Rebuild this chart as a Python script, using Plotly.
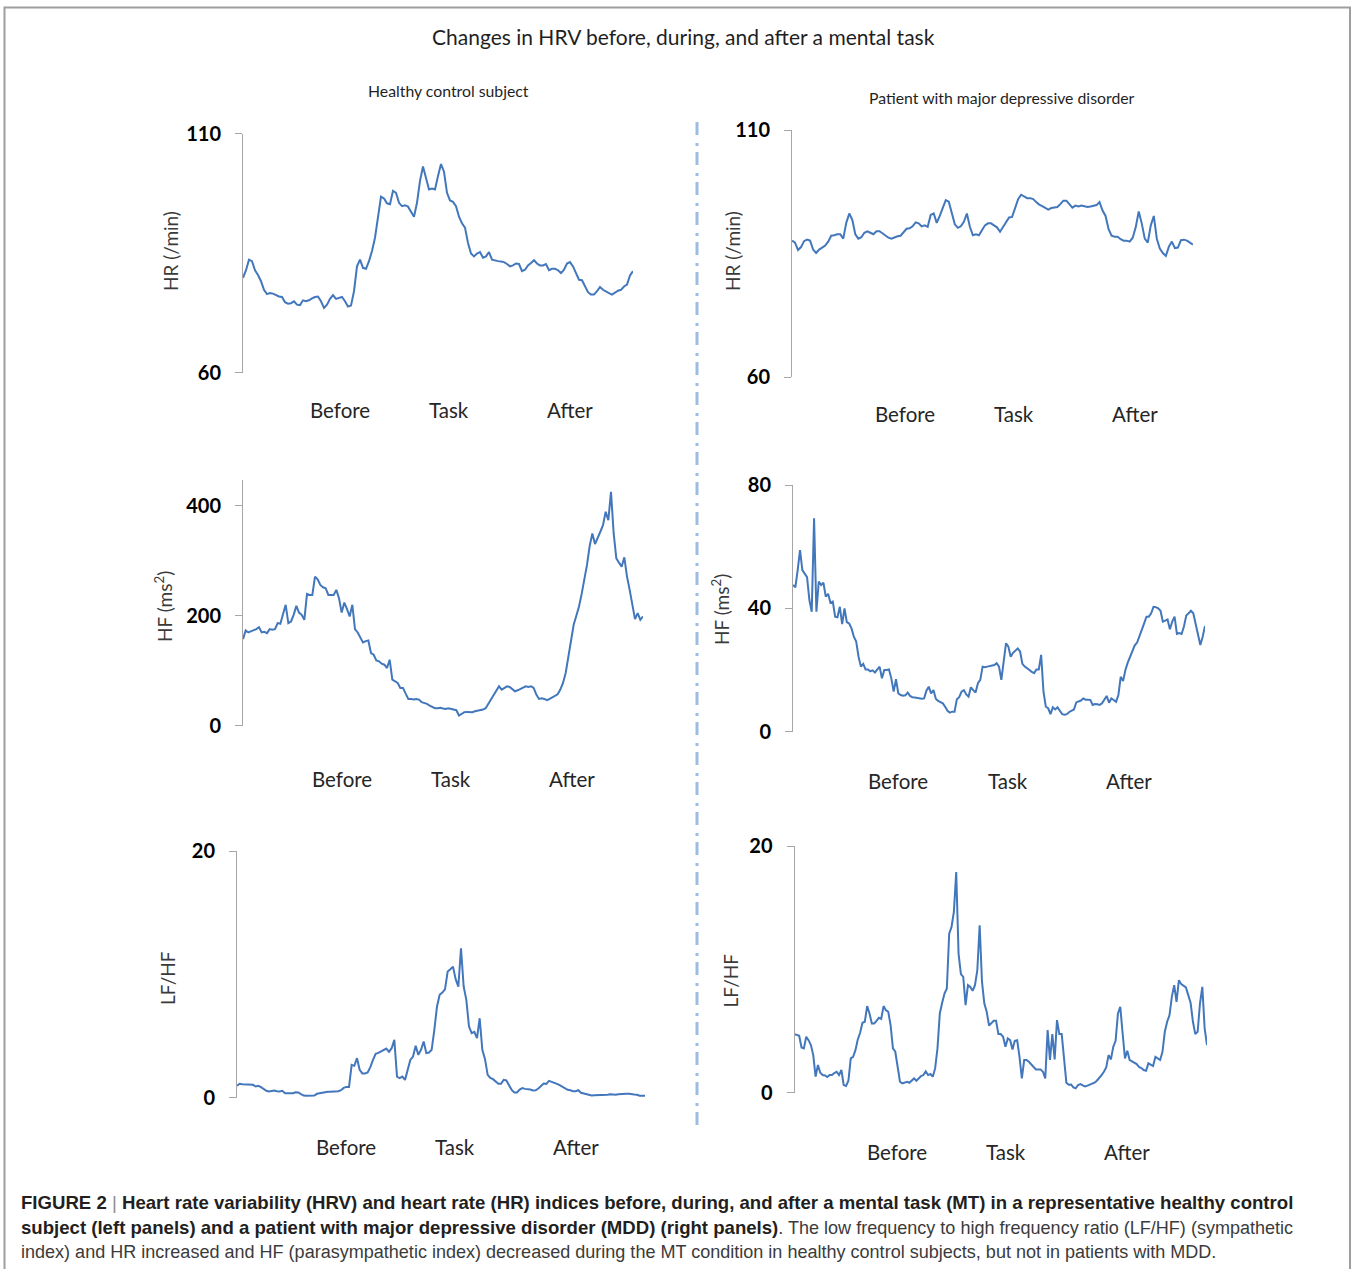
import plotly.graph_objects as go

W, H = 1352, 1269

# ---------------- data ----------------
# Heart rate (beats/min), healthy control subject
hr_control = [79.8, 81.4, 83.6, 83.3, 81.4, 80.4, 79.1, 77.3, 76.4, 76.6, 76.5, 76.2, 75.9, 75.8,
              74.7, 74.4, 74.5, 74.9, 74.2, 74.1, 75.1, 74.9, 75.1, 75.5, 75.8, 75.9, 74.9, 73.5,
              74.2, 75.4, 76.2, 75.4, 75.6, 75.8, 74.9, 73.8, 74.0, 77.0, 82.2, 83.6, 81.9, 81.7,
              83.3, 85.4, 88.2, 92.7, 96.8, 96.4, 95.4, 95.2, 98.0, 97.6, 95.5, 94.8, 95.0, 94.7,
              93.6, 92.6, 95.5, 100.1, 103.1, 100.4, 98.3, 98.5, 98.3, 101.1, 103.6, 102.0, 97.6,
              96.0, 95.7, 94.8, 92.6, 91.2, 90.3, 87.1, 84.9, 84.3, 84.9, 85.2, 84.0, 84.3, 85.2,
              83.6, 83.4, 83.3, 83.2, 83.1, 82.7, 82.2, 82.4, 82.8, 82.7, 81.2, 81.5, 82.4, 82.9,
              83.5, 82.8, 82.4, 82.4, 82.7, 81.4, 81.7, 81.7, 81.4, 80.8, 81.5, 82.8, 83.1, 82.2,
              80.7, 79.4, 79.3, 78.0, 76.8, 76.3, 76.3, 77.0, 77.9, 77.3, 76.9, 76.6, 76.3, 76.8,
              77.1, 77.3, 78.0, 78.4, 80.3, 81.2]

# HF power (ms^2), healthy control subject
hf_control = [157.3, 173.1, 169.4, 171.2, 172.5, 175.5, 179.1, 169.4, 170.6, 168.2, 175.5, 174.3,
              175.5, 186.4, 185.2, 201.5, 219.7, 186.4, 189.4, 201.5, 217.8, 205.7, 201.5, 192.4,
              239.6, 237.8, 237.8, 271.1, 266.2, 256.0, 251.7, 249.9, 237.8, 237.8, 237.8, 246.9,
              231.8, 205.7, 223.9, 211.8, 198.5, 219.7, 175.5, 169.4, 159.1, 151.3, 153.7, 154.9,
              131.9, 128.9, 118.6, 116.8, 112.5, 110.7, 104.7, 119.8, 83.5, 80.5, 77.5, 68.4, 68.4,
              58.1, 48.4, 48.4, 47.2, 48.4, 47.2, 42.4, 41.1, 39.3, 36.3, 33.9, 31.5, 31.5, 32.1,
              30.9, 30.3, 31.5, 30.3, 30.3, 27.8, 18.2, 21.2, 24.2, 24.8, 24.2, 24.2, 26.0, 26.6,
              27.8, 29.0, 31.5, 39.9, 46.0, 54.5, 64.1, 71.4, 65.4, 69.0, 71.4, 70.2, 66.6, 62.3,
              64.1, 66.6, 69.6, 71.4, 70.2, 71.4, 68.4, 56.3, 48.4, 49.6, 48.4, 46.0, 48.4, 51.4,
              54.5, 56.9, 65.4, 77.5, 95.6, 122.8, 153.1, 183.3, 199.7, 216.6, 239.6, 265.0, 292.3,
              326.8, 349.7, 330.4, 340.7, 352.8, 364.9, 389.1, 374.0, 425.4, 349.7, 304.4, 296.5,
              289.2, 306.2, 271.1, 246.9, 222.7, 193.6, 204.5, 192.4, 198.5]

# LF/HF ratio, healthy control subject
lfhf_control = [0.95, 1.11, 1.08, 1.08, 1.05, 1.03, 1.03, 0.89, 0.95, 0.84, 0.65, 0.54, 0.49, 0.51,
                0.57, 0.51, 0.49, 0.54, 0.35, 0.35, 0.35, 0.35, 0.43, 0.41, 0.27, 0.16, 0.14, 0.14,
                0.14, 0.16, 0.30, 0.35, 0.38, 0.43, 0.46, 0.46, 0.46, 0.49, 0.51, 0.59, 0.78, 0.86,
                0.86, 2.65, 2.57, 3.19, 2.24, 1.95, 1.95, 2.03, 2.46, 3.05, 3.54, 3.62, 3.73, 3.87,
                3.97, 3.70, 4.00, 4.68, 1.70, 1.57, 1.70, 1.43, 2.24, 3.05, 3.32, 4.19, 3.46, 3.87,
                4.54, 3.60, 3.65, 3.87, 5.49, 7.38, 8.33, 8.51, 8.78, 10.22, 10.41, 10.62, 9.60,
                9.00, 12.11, 9.00, 7.92, 5.76, 5.22, 5.32, 4.81, 6.43, 3.87, 3.11, 1.84, 1.59, 1.49,
                1.30, 1.11, 1.11, 1.43, 1.38, 1.03, 0.62, 0.41, 0.41, 0.65, 0.76, 0.70, 0.68, 0.65,
                0.57, 0.59, 0.73, 0.95, 1.14, 1.11, 1.35, 1.27, 1.22, 1.11, 1.00, 0.86, 0.76, 0.62,
                0.59, 0.51, 0.51, 0.59, 0.38, 0.32, 0.30, 0.22, 0.16, 0.19, 0.19, 0.16, 0.16, 0.16,
                0.22, 0.27, 0.22, 0.22, 0.27, 0.30, 0.32, 0.30, 0.30, 0.30, 0.24, 0.22, 0.14, 0.14,
                0.14]

# Heart rate (beats/min), patient with MDD
hr_mdd = [87.6, 87.2, 85.7, 86.3, 87.5, 87.8, 87.6, 85.8, 85.1, 85.8, 86.2, 86.6, 87.4, 88.6, 88.7,
          88.9, 88.9, 88.0, 91.2, 93.1, 91.8, 88.9, 88.0, 88.3, 89.2, 89.5, 89.2, 88.9, 89.5, 89.5,
          89.1, 88.6, 88.2, 88.0, 88.3, 88.5, 88.6, 89.3, 90.0, 90.1, 90.5, 91.3, 91.1, 90.5, 90.7,
          90.4, 92.8, 93.1, 91.2, 92.6, 94.3, 95.8, 95.5, 93.2, 90.9, 90.2, 90.5, 91.4, 93.1, 90.4,
          88.7, 88.9, 88.7, 89.7, 90.7, 91.1, 91.1, 90.7, 90.3, 89.4, 90.3, 91.3, 92.3, 92.4, 94.3,
          96.0, 96.9, 96.6, 96.2, 96.2, 96.0, 95.4, 94.9, 94.6, 94.2, 93.9, 94.2, 94.3, 94.4, 95.0,
          95.7, 95.7, 94.9, 94.3, 94.7, 94.5, 94.7, 94.6, 94.4, 94.5, 94.6, 94.8, 95.4, 93.7, 92.6,
          89.9, 88.6, 88.4, 88.4, 87.9, 87.6, 87.6, 87.4, 88.2, 90.3, 93.5, 91.1, 88.0, 87.2, 90.7,
          92.6, 88.0, 86.0, 85.1, 84.5, 86.4, 87.4, 86.1, 86.2, 87.7, 87.8, 87.6, 87.2, 86.8]

# HF power (ms^2), patient with MDD
hf_mdd = [47.6, 46.8, 52.4, 58.9, 52.4, 51.1, 50.1, 42.7, 38.9, 69.2, 38.9, 48.7, 47.6, 48.3, 43.8,
          44.7, 41.8, 42.2, 37.3, 37.1, 40.5, 34.9, 40.0, 35.5, 35.1, 33.5, 30.8, 29.2, 24.3, 21.1,
          22.0, 20.2, 20.2, 19.6, 19.9, 19.2, 20.0, 21.1, 17.3, 20.0, 20.0, 20.2, 17.3, 13.0, 17.0,
          12.4, 11.9, 11.7, 11.8, 12.7, 11.6, 11.2, 11.1, 10.9, 10.8, 10.7, 10.8, 13.3, 14.6, 12.4,
          13.5, 10.7, 10.0, 9.6, 9.2, 8.1, 6.8, 6.2, 6.5, 6.5, 10.5, 11.2, 13.0, 13.5, 12.1, 11.4,
          14.4, 13.5, 12.7, 15.7, 16.8, 21.1, 20.9, 21.1, 21.3, 21.3, 21.6, 22.2, 21.1, 16.8, 22.2,
          28.7, 27.6, 24.3, 25.6, 26.3, 27.0, 26.0, 22.0, 21.1, 20.4, 20.0, 19.4, 19.0, 20.2, 20.2,
          24.9, 13.0, 8.1, 7.6, 5.7, 7.9, 7.2, 7.9, 6.8, 5.7, 5.5, 5.7, 6.4, 6.8, 7.2, 9.5, 9.8,
          10.1, 10.8, 10.4, 10.4, 10.3, 8.7, 9.0, 8.9, 8.7, 9.2, 10.5, 11.6, 9.4, 10.8, 10.3, 9.7,
          11.9, 17.8, 16.4, 20.0, 22.4, 24.3, 26.5, 28.0, 28.9, 30.8, 33.0, 35.1, 37.3, 37.3, 38.4,
          40.5, 40.4, 40.0, 39.2, 35.7, 36.0, 36.4, 33.2, 35.7, 37.3, 31.7, 32.0, 31.7, 34.1, 37.7,
          38.4, 39.2, 38.4, 35.1, 31.4, 28.1, 30.8, 34.3]

# LF/HF ratio, patient with MDD
lfhf_mdd = [4.75, 4.70, 4.62, 3.67, 3.59, 4.53, 4.26, 3.86, 3.05, 1.30, 2.24, 1.62, 1.43, 1.40, 1.27,
            1.43, 1.43, 1.59, 1.70, 1.43, 1.84, 0.62, 0.54, 0.97, 2.78, 2.91, 3.45, 4.32, 4.86, 5.67,
            5.75, 7.02, 6.42, 5.61, 5.61, 5.83, 6.07, 5.99, 7.02, 6.69, 6.56, 5.48, 3.59, 3.32, 2.24,
            0.89, 0.76, 0.81, 0.89, 0.81, 0.97, 1.16, 0.97, 1.13, 1.35, 1.43, 1.73, 1.43, 1.51, 1.30,
            1.97, 3.59, 6.42, 7.29, 8.04, 8.45, 12.90, 13.44, 14.66, 17.89, 11.28, 9.61, 9.39, 7.10,
            8.72, 8.58, 8.26, 8.72, 9.93, 13.58, 8.99, 7.23, 6.56, 5.45, 5.67, 5.83, 5.83, 4.75, 4.75,
            4.53, 3.72, 4.40, 4.26, 3.51, 4.21, 4.26, 2.91, 1.16, 2.65, 2.65, 2.51, 2.32, 2.11, 1.89,
            1.89, 1.89, 1.70, 1.16, 5.07, 2.65, 4.75, 2.70, 5.88, 4.75, 4.75, 2.65, 0.81, 0.65, 0.67,
            0.43, 0.35, 0.62, 0.70, 0.59, 0.51, 0.57, 0.65, 0.70, 0.81, 0.97, 1.16, 1.43, 1.70, 2.05,
            3.05, 2.70, 3.72, 4.21, 6.42, 6.96, 4.80, 2.78, 3.40, 2.65, 2.54, 2.43, 2.32, 2.08, 2.00,
            1.84, 1.78, 2.38, 2.24, 2.16, 2.91, 2.78, 2.65, 3.32, 4.94, 5.75, 6.29, 7.77, 8.72, 7.37,
            9.12, 8.80, 8.69, 8.53, 7.91, 7.29, 5.75, 4.75, 4.94, 7.23, 8.58, 5.21, 3.86]

phase_labels = ["Before", "Task", "After"]
hr_ticks = [60, 110]
hf_control_ticks = [0, 200, 400]
hf_mdd_ticks = [0, 40, 80]
lfhf_ticks = [0, 20]

main_title = "Changes in HRV before, during, and after a mental task"
group_titles = ["Healthy control subject", "Patient with major depressive disorder"]

# caption: bold lead-in, lighter body text
BODY = "<span style='font-size:18.05px;color:#3b3b3b'>{}</span>"
caption_lines = [
    "<b>FIGURE 2</b> <span style='color:#8c8c8c'>|</span> <b>Heart rate variability (HRV) and heart rate (HR) "
    "indices before, during, and after a mental task (MT) in a representative healthy control</b>",
    "<b>subject (left panels) and a patient with major depressive disorder (MDD) (right panels)</b>"
    + BODY.format(". The low frequency to high frequency ratio (LF/HF) (sympathetic"),
    BODY.format("index) and HR increased and HF (parasympathetic index) decreased during the MT condition "
                "in healthy control subjects, but not in patients with MDD."),
]

# ---------------- layout of the six panels (pixel boxes) ----------------
panels = [
    dict(series=hr_control, box=(243, 633, 133.5, 372.5), yr=[60, 110], ticks=hr_ticks,
         ytitle="HR (/min)", tpos=(171, 251), cats=[(340, 410), (449, 410), (570, 410)]),
    dict(series=hf_control, box=(243, 643, 480, 725.5), yr=[0, 447], ticks=hf_control_ticks,
         ytitle="HF (ms<sup>2</sup>)", tpos=(163, 607), cats=[(341.5, 779), (451, 779), (572, 779)]),
    dict(series=lfhf_control, box=(237, 645, 851, 1097.5), yr=[0, 20], ticks=lfhf_ticks,
         ytitle="LF/HF", tpos=(167, 978), cats=[(345.5, 1147), (455, 1147), (576, 1147)]),
    dict(series=hr_mdd, box=(792, 1193, 130, 377), yr=[60, 110], ticks=hr_ticks,
         ytitle="HR (/min)", tpos=(733, 251), cats=[(904.5, 414), (1013.5, 414), (1135, 414)]),
    dict(series=hf_mdd, box=(793, 1205, 485, 731.7), yr=[0, 80], ticks=hf_mdd_ticks,
         ytitle="HF (ms<sup>2</sup>)", tpos=(720, 610), cats=[(898, 781.5), (1007.5, 781.5), (1128.5, 781.5)]),
    dict(series=lfhf_mdd, box=(794.5, 1207, 846, 1092.7), yr=[0, 20], ticks=lfhf_ticks,
         ytitle="LF/HF", tpos=(729.5, 981), cats=[(897, 1151.5), (1006, 1151.5), (1127, 1151.5)]),
]

LINE_BLUE = "#4377BC"
AXIS_GREY = "#A6A6A6"
FONT = "Lato"


def fx(px):
    return px / W


def fy(py):
    return 1 - py / H


fig = go.Figure()
layout = dict(
    template="none",
    width=W, height=H,
    margin=dict(l=0, r=0, t=0, b=0, pad=0, autoexpand=False),
    paper_bgcolor="white", plot_bgcolor="white",
    showlegend=False,
    font=dict(family=FONT, color="#262626"),
)
annotations = []

for i, p in enumerate(panels, start=1):
    sfx = "" if i == 1 else str(i)
    x0, x1, y0, y1 = p["box"]
    n = len(p["series"])
    fig.add_trace(go.Scatter(
        x=list(range(n)), y=p["series"], mode="lines",
        line=dict(color=LINE_BLUE, width=2),
        xaxis="x" + sfx, yaxis="y" + sfx, hoverinfo="skip",
    ))
    layout["xaxis" + sfx] = dict(
        domain=[fx(x0), fx(x1)], range=[0, n - 1], anchor="y" + sfx,
        visible=False, fixedrange=True, automargin=False,
    )
    layout["yaxis" + sfx] = dict(
        domain=[fy(y1), fy(y0)], range=p["yr"], anchor="x" + sfx,
        showline=True, linecolor=AXIS_GREY, linewidth=1,
        ticks="outside", ticklen=7, tickwidth=1, tickcolor=AXIS_GREY,
        tickvals=p["ticks"], ticklabelstandoff=10,
        tickfont=dict(family=FONT, size=20, color="#000000", weight="bold"),
        showgrid=False, zeroline=False, fixedrange=True, automargin=False,
    )
    tx, ty = p["tpos"]
    annotations.append(dict(
        text=p["ytitle"], xref="paper", yref="paper", x=fx(tx), y=fy(ty),
        xanchor="center", yanchor="middle", textangle=-90, showarrow=False,
        font=dict(family=FONT, size=19, color="#3a3a3a"),
    ))
    for label, (cx, cy) in zip(phase_labels, p["cats"]):
        annotations.append(dict(
            text=label, xref="paper", yref="paper", x=fx(cx), y=fy(cy),
            xanchor="center", yanchor="middle", showarrow=False,
            font=dict(family=FONT, size=20.5, color="#262626"),
        ))

# titles
annotations.append(dict(text=main_title, xref="paper", yref="paper", x=fx(683.5), y=fy(36),
                        xanchor="center", yanchor="middle", showarrow=False,
                        font=dict(family=FONT, size=21, color="#1f1f1f")))
for t, (cx, cy) in zip(group_titles, [(448.5, 91), (1002, 97)]):
    annotations.append(dict(text=t, xref="paper", yref="paper", x=fx(cx), y=fy(cy),
                            xanchor="center", yanchor="middle", showarrow=False,
                            font=dict(family=FONT, size=15.8, color="#1f1f1f")))

# caption
for k, line in enumerate(caption_lines):
    annotations.append(dict(text=line, xref="paper", yref="paper", x=fx(19), y=fy(1202 + 25 * k),
                            xanchor="left", yanchor="middle", align="left", showarrow=False,
                            font=dict(family="Liberation Sans", size=18.6, color="#231F20")))

layout["annotations"] = annotations

# frame around the figure and dashed divider between the two subjects
layout["shapes"] = [
    dict(type="rect", xref="paper", yref="paper", x0=fx(4.5), x1=fx(1350), y0=fy(1290), y1=fy(7.5),
         line=dict(color="#9E9E9E", width=2), fillcolor="rgba(0,0,0,0)", layer="below"),
    dict(type="line", xref="paper", yref="paper", x0=fx(697), x1=fx(697), y0=fy(1125), y1=fy(122),
         line=dict(color="#9DBCE3", width=3, dash="13px,6px,3px,8px")),
]

fig.update_layout(**layout)
fig.write_html("out.html", config={"displayModeBar": False})
